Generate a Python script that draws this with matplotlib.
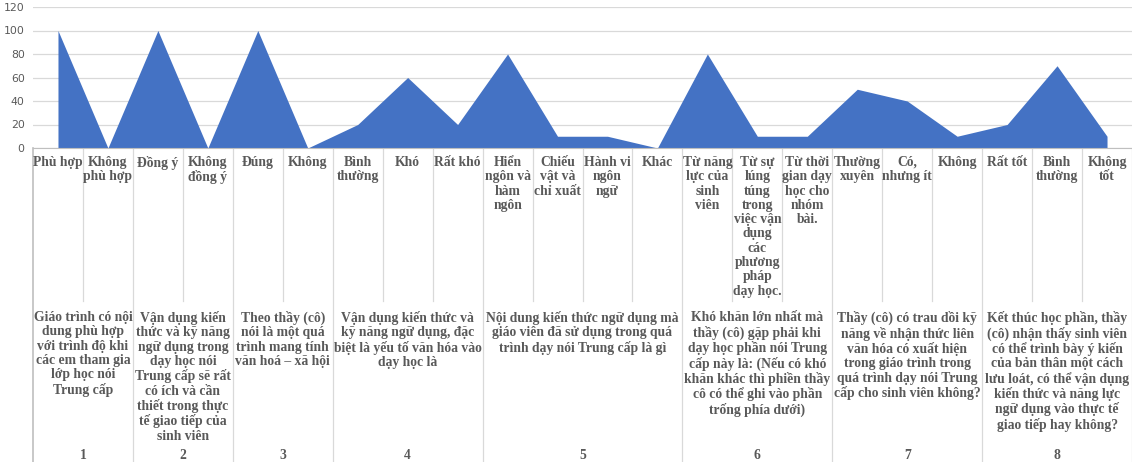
import matplotlib.pyplot as plt
import matplotlib.transforms as mtransforms
import numpy as np

# answer options (level 1 of the category axis)
answers = [
    'Phù hợp', 'Không\nphù hợp',
    'Đồng ý', 'Không\nđồng ý',
    'Đúng', 'Không',
    'Bình\nthường', 'Khó', 'Rất khó',
    'Hiển\nngôn và\nhàm\nngôn', 'Chiếu\nvật và\nchỉ xuất', 'Hành vi\nngôn\nngữ', 'Khác',
    'Từ năng\nlực của\nsinh\nviên',
    'Từ sự\nlúng\ntúng\ntrong\nviệc vận\ndụng\ncác\nphương\npháp\ndạy học.',
    'Từ thời\ngian dạy\nhọc cho\nnhóm\nbài.',
    'Thường\nxuyên', 'Có,\nnhưng ít', 'Không',
    'Rất tốt', 'Bình\nthường', 'Không\ntốt',
]
values = [100, 0, 100, 0, 100, 0, 20, 60, 20, 80, 10, 10, 0,
          80, 10, 10, 50, 40, 10, 20, 70, 10]

# questions (level 2) and their number of options
questions = [
    'Giáo trình có nội\ndung phù hợp\nvới trình độ khi\ncác em tham gia\nlớp học nói\nTrung cấp',
    'Vận dụng kiến\nthức và kỹ năng\nngữ dụng trong\ndạy học nói\nTrung cấp sẽ rất\ncó ích và cần\nthiết trong thực\ntế giao tiếp của\nsinh viên',
    'Theo thầy (cô)\nnói là một quá\ntrình mang tính\nvăn hoá – xã hội',
    'Vận dụng kiến thức và\nkỹ năng ngữ dụng, đặc\nbiệt là yếu tố văn hóa vào\ndạy học là',
    'Nội dung kiến thức ngữ dụng mà\ngiáo viên đã sử dụng trong quá\ntrình dạy nói Trung cấp là gì',
    'Khó khăn lớn nhất mà\nthầy (cô) gặp phải khi\ndạy học phần nói Trung\ncấp này là: (Nếu có khó\nkhăn khác thì phiền thầy\ncô có thể ghi vào phần\ntrống phía dưới)',
    'Thầy (cô) có trau dồi kỹ\nnăng về nhận thức liên\nvăn hóa có xuất hiện\ntrong giáo trình trong\nquá trình dạy nói Trung\ncấp cho sinh viên không?',
    'Kết thúc học phần, thầy\n(cô) nhận thấy sinh viên\ncó thể trình bày ý kiến\ncủa bản thân một cách\nlưu loát, có thể vận dụng\nkiến thức và năng lực\nngữ dụng vào thực tế\ngiao tiếp hay không?',
]
group_sizes = [2, 2, 2, 3, 4, 3, 3, 3]
group_numbers = ['1', '2', '3', '4', '5', '6', '7', '8']

W, H = 1132, 462
fig = plt.figure(figsize=(W / 100, H / 100), dpi=100)


def fy(p):
    return 1 - p / H


ax = fig.add_axes([33 / W, fy(148), 1 - 33 / W, fy(7) - fy(148)])

x = np.arange(len(values))
ax.fill_between(x, values, 0, color='#4472c4', lw=0)

ax.set_xlim(-0.5, len(values) - 0.5)
ax.set_ylim(0, 120)
ax.set_yticks(np.arange(0, 121, 20))
ax.yaxis.grid(True, color='#d9d9d9', lw=0.9)
ax.set_axisbelow(True)
ax.set_xticks([])
ax.tick_params(axis='y', length=0, labelsize=7.8, labelcolor='#595959', pad=6)
for s in ['top', 'right', 'left']:
    ax.spines[s].set_visible(False)
ax.spines['bottom'].set_color('#bfbfbf')

tr = mtransforms.blended_transform_factory(ax.transData, fig.transFigure)
txt = dict(family='Liberation Serif', fontweight='bold', color='#595959',
           fontsize=9.8, linespacing=1.13, ha='center', va='top', transform=tr)

# left edge of the category table
ax.plot([-0.5, -0.5], [fy(148), 0], transform=tr, color='#bfbfbf', lw=1.2, clip_on=False)

for i, lab in enumerate(answers):
    ax.text(i, fy(156), lab, **txt)

start = 0
for q, n, num in zip(questions, group_sizes, group_numbers):
    end = start + n
    for b in range(start + 1, end):
        ax.plot([b - 0.5, b - 0.5], [fy(149), fy(301)], transform=tr,
                color='#d9d9d9', lw=0.9, clip_on=False)
    ax.plot([end - 0.5, end - 0.5], [fy(149), 0], transform=tr,
            color='#d9d9d9', lw=0.9, clip_on=False)
    mid = (start + end - 1) / 2
    ax.text(mid, fy(311), q, **txt)
    ax.text(mid, fy(449), num, **txt)
    start = end

fig.savefig('out.png', dpi=100)
